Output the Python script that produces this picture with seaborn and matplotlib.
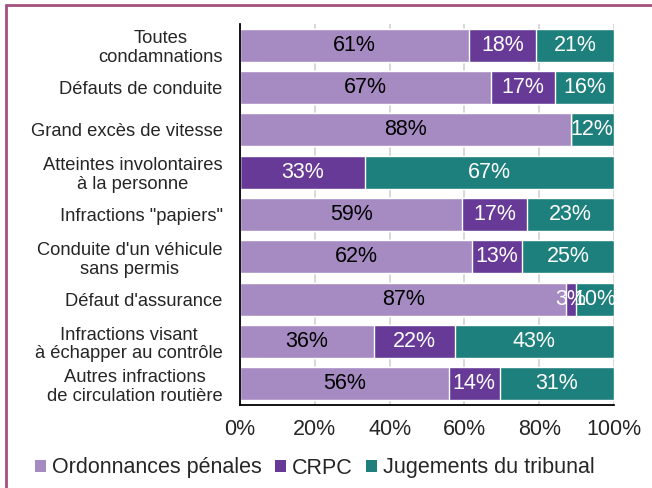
import matplotlib
matplotlib.use("Agg")
import matplotlib.pyplot as plt
import numpy as np
import pandas as pd
import seaborn as sns
from matplotlib.lines import Line2D
from matplotlib.patches import Patch

# données (parts en %)
categories = [
    "Toutes\ncondamnations",
    "Défauts de conduite",
    "Grand excès de vitesse",
    "Atteintes involontaires\nà la personne",
    'Infractions "papiers"',
    "Conduite d'un véhicule\nsans permis",
    "Défaut d'assurance",
    "Infractions visant\nà échapper au contrôle",
    "Autres infractions\nde circulation routière",
]
ordonnances = [61.2, 67.1, 88.4, 0.0, 59.4, 62.0, 87.2, 35.7, 55.8]
crpc = [17.9, 17.1, 0.0, 33.3, 17.3, 13.4, 2.6, 21.7, 13.6]
jugements = [20.9, 15.8, 11.6, 66.7, 23.3, 24.6, 10.2, 42.6, 30.6]

series = ["Ordonnances pénales", "CRPC", "Jugements du tribunal"]
colors = ["#a68bc3", "#663a96", "#1e807c"]
text_colors = ["black", "white", "white"]

df = pd.DataFrame({"cat": categories, series[0]: ordonnances,
                   series[1]: crpc, series[2]: jugements})
df["c1"] = df[series[0]]
df["c2"] = df["c1"] + df[series[1]]
df["c3"] = df["c2"] + df[series[2]]

sns.set_style("white")
plt.rcParams["font.family"] = ["Liberation Sans", "DejaVu Sans"]

fig = plt.figure(figsize=(6.52, 4.88), dpi=100)
ax = fig.add_axes([240 / 652, 1 - 405 / 488, 374 / 652, 381 / 488])

# empilement : on trace les cumuls du plus grand au plus petit
for col, c in zip(["c3", "c2", "c1"], colors[::-1]):
    sns.barplot(data=df, x=col, y="cat", orient="h", color=c, width=0.78,
                saturation=1, ax=ax, zorder=2)

# étiquettes
for i, row in df.iterrows():
    start = 0
    for s, tc in zip(series, text_colors):
        v = row[s]
        if v > 0:
            ax.text(start + v / 2, i, f"{v:.0f}%", ha="center", va="center",
                    color=tc, fontsize=15.5, zorder=3)
        start += v

ax.set_xlim(0, 100)
ax.set_ylim(len(categories) - 0.5, -0.5)
ax.set_xticks(np.arange(0, 101, 20))
ax.set_xticklabels([f"{t}%" for t in range(0, 101, 20)], fontsize=15.5)
ax.set_xlabel("")
ax.set_ylabel("")
ax.xaxis.grid(True, color="#d4d4d4", linewidth=1.3, zorder=0)
ax.set_axisbelow(True)

for sp in ["top", "right"]:
    ax.spines[sp].set_visible(False)
for sp in ["left", "bottom"]:
    ax.spines[sp].set_color("black")
    ax.spines[sp].set_linewidth(1.3)

ax.tick_params(axis="x", direction="out", length=5, width=1.3, color="black", pad=5)
ax.tick_params(axis="y", which="major", length=0, pad=12.5, labelsize=13.2)
ax.set_yticks(np.arange(-0.5, len(categories), 1), minor=True)
ax.tick_params(axis="y", which="minor", direction="out", length=5, width=1.3, color="black")
for lab in ax.get_yticklabels():
    lab.set_multialignment("center")
    lab.set_linespacing(1.15)

handles = [Patch(facecolor=c, edgecolor="none") for c in colors]
fig.legend(handles, series, loc="center left", bbox_to_anchor=(35 / 652, 1 - 468 / 488),
           ncol=3, frameon=False, fontsize=15.5, handlelength=0.5, handleheight=0.5,
           handletextpad=0.3, columnspacing=0.6, borderpad=0, borderaxespad=0)

# cadre
border = "#a4507f"
fig.add_artist(Line2D([6 / 652, 6 / 652], [0, 1 - 5 / 488], color=border, lw=2))
fig.add_artist(Line2D([6 / 652, 1], [1 - 5 / 488, 1 - 5 / 488], color=border, lw=2))

fig.savefig("out.png", dpi=100)
